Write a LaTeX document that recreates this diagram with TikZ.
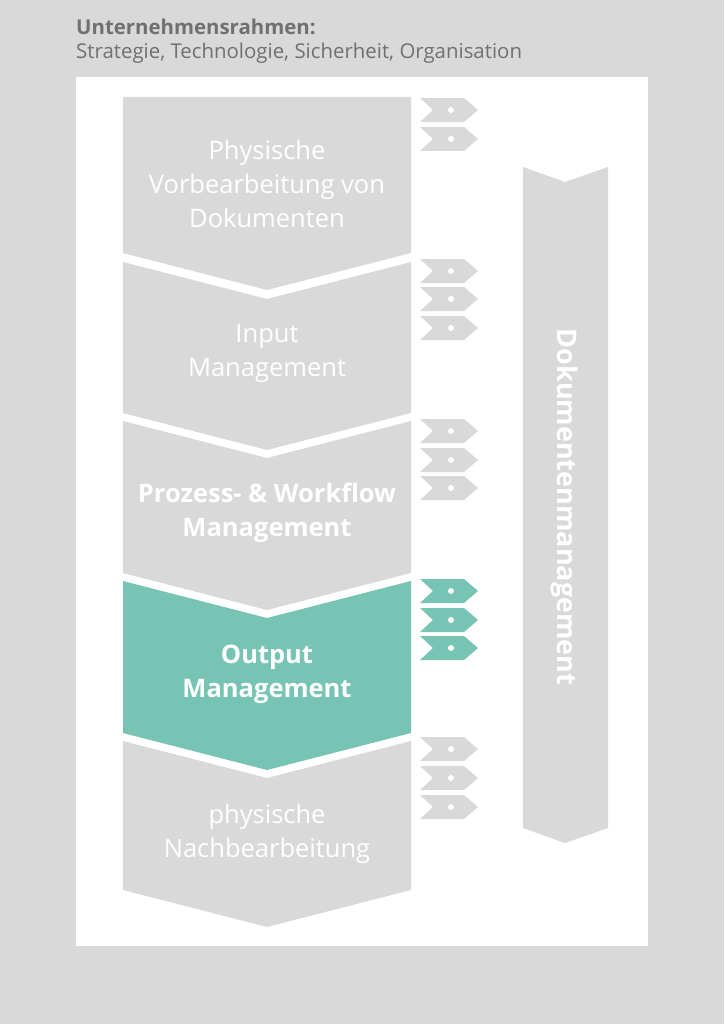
\documentclass[tikz,border=0pt]{standalone}
\usepackage{fontspec}
\setmainfont{Open Sans}
\definecolor{bg}{HTML}{D9D9D9}
\definecolor{teal}{HTML}{77C4B5}
\definecolor{hdr}{HTML}{707070}
\begin{document}
\begin{tikzpicture}[x=1pt,y=-1pt,
  lbl/.style={text=white,align=center,font=\fontsize{25.5}{34}\selectfont},
  blbl/.style={lbl,font=\fontsize{25.5}{34}\selectfont\bfseries},
  dot/.style={circle,fill=white,inner sep=0pt,minimum size=6pt}]
\useasboundingbox (0,0) rectangle (724,1024);
\fill[bg] (0,0) rectangle (724,1024);
\fill[white] (76,77) rectangle (648,946);
\node[anchor=west,text=hdr,font=\fontsize{20.4}{24}\selectfont\bfseries,inner sep=0pt] (t1) at (76,27) {Unternehmensrahmen:};
\node[anchor=west,text=hdr,font=\fontsize{20.4}{24}\selectfont,inner sep=0pt] (t2) at (76,53) {Strategie, Technologie, Sicherheit, Organisation};
% segments
\fill[bg] (123,97) -- (411,97) -- (411,253) -- (267,290) -- (123,253) -- cycle;
\fill[bg] (123,262) -- (267,299) -- (411,262) -- (411,413) -- (267,450) -- (123,413) -- cycle;
\fill[bg] (123,421) -- (267,458) -- (411,421) -- (411,573) -- (267,610) -- (123,573) -- cycle;
\fill[teal] (123,581) -- (267,618) -- (411,581) -- (411,733) -- (267,770) -- (123,733) -- cycle;
\fill[bg] (123,741) -- (267,778) -- (411,741) -- (411,890) -- (267,927) -- (123,890) -- cycle;
\node[lbl] (s1) at (267,184) {Physische\\Vorbearbeitung von\\Dokumenten};
\node[lbl] (s2) at (267,353) {Input\\Management};
\node[blbl] (s3) at (267,513) {Prozess- \& Workflow\\Management};
\node[blbl] (s4) at (267,674) {Output\\Management};
\node[lbl] (s5) at (267,834) {physische\\Nachbearbeitung};
% big right arrow
\fill[bg] (523,167) -- (565,182) -- (608,167) -- (608,828) -- (565,843) -- (523,828) -- cycle;
\node[text=white,rotate=-90,font=\fontsize{27}{30}\selectfont\bfseries] (dm) at (565,507) {Dokumentenmanagement};
% small arrows
\foreach \y/\c in {110/bg,139/bg,271/bg,299/bg,328/bg,431/bg,460/bg,488/bg,591/teal,620/teal,648/teal,749/bg,778/bg,807/bg}{
  \fill[\c] (420,\y-12) -- (464,\y-12) -- (478,\y) -- (464,\y+12) -- (420,\y+12) -- (433,\y) -- cycle;
  \node[dot] at (451,\y) {};
}
\end{tikzpicture}
\end{document}
